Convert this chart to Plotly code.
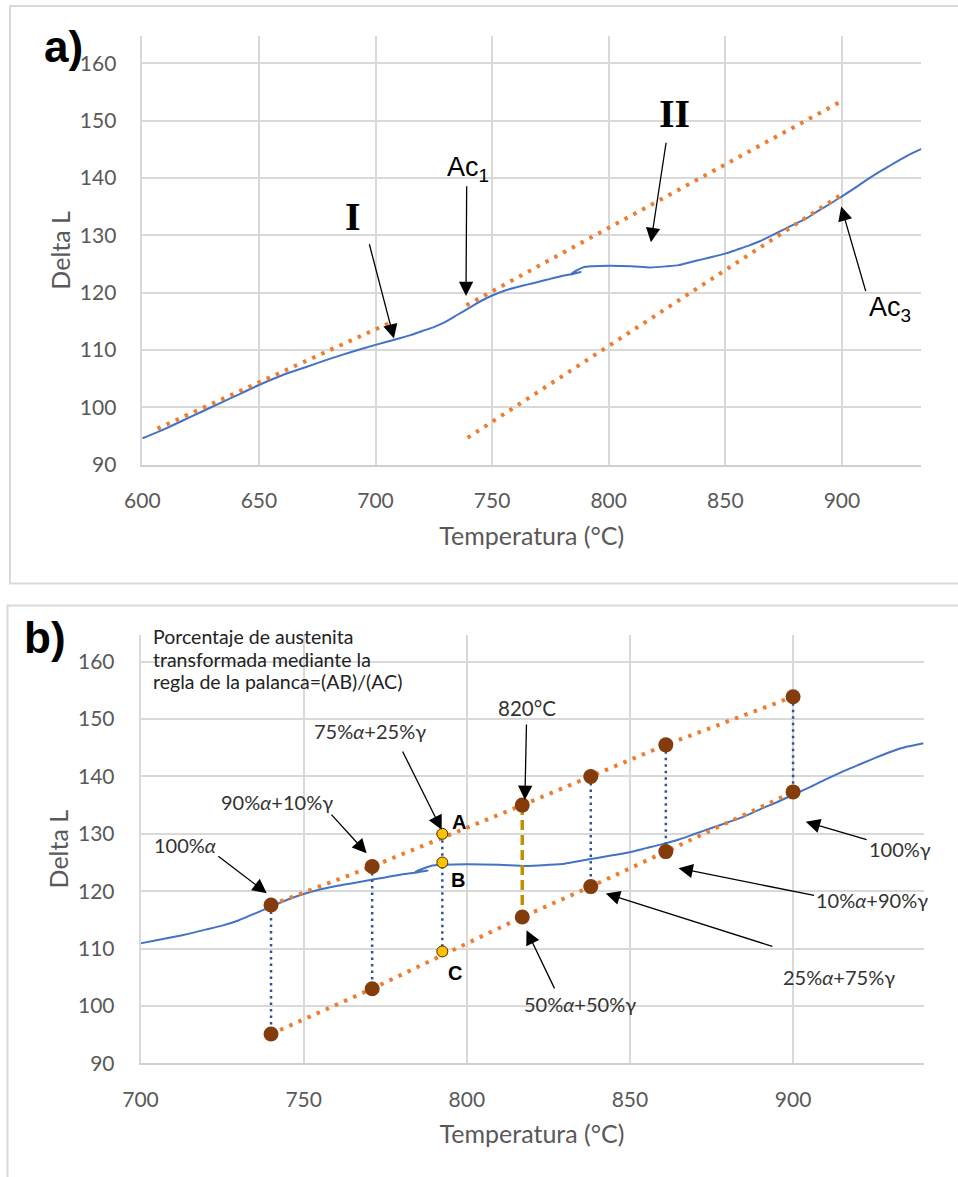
import plotly.graph_objects as go

# ---------------- data ----------------
# dilatometric curve (Temperature °C, Delta L)
temp = [600, 610, 620, 630, 640, 650, 660, 670, 680, 690, 700, 710, 715, 720, 725, 730,
        735, 740, 745, 750, 755, 760, 765, 770, 775, 780, 785, 788, 784, 789, 793,
        800, 810, 818, 825, 830, 835, 840, 845, 850, 855, 860, 865, 870, 875, 880,
        885, 890, 895, 900, 905, 910, 915, 920, 925, 930, 935, 940]
delta_l = [94.6, 96.3, 98.2, 100.1, 102.0, 103.9, 105.6, 107.0, 108.4, 109.7, 110.9, 112.0, 112.6, 113.3, 114.0, 114.9,
           116.1, 117.3, 118.5, 119.5, 120.3, 120.9, 121.4, 121.9, 122.4, 122.9, 123.3, 123.6, 123.3, 124.4, 124.6,
           124.7, 124.6, 124.4, 124.6, 124.8, 125.3, 125.8, 126.3, 126.8, 127.5, 128.2, 129.0, 130.0, 131.0, 132.0,
           133.0, 134.3, 135.5, 136.8, 138.1, 139.5, 140.8, 142.0, 143.2, 144.3, 145.2, 145.8]

# panel a tangent lines
line_I_T = [606.5, 707]
line_I_dL = [96.3, 114.9]
upper_a_T = [739, 899]
upper_a_dL = [117.8, 153.2]
lower_a_T = [739.5, 899]
lower_a_dL = [94.7, 136.9]

# panel b lever-rule points
pt_T = [740, 771, 817, 838, 861, 900]
pt_upper = [117.6, 124.3, 135.0, 140.0, 145.5, 153.9]
pt_lower = [95.1, 103.0, 115.5, 120.8, 126.9, 137.3]
abc_T = 792.5
abc_vals = [130.0, 125.0, 109.5]
abc_labels = ["A", "B", "C"]

x_ticks_a = [600, 650, 700, 750, 800, 850, 900]
x_ticks_b = [700, 750, 800, 850, 900]
y_ticks = [90, 100, 110, 120, 130, 140, 150, 160]

note_lines = ["Porcentaje de austenita", "transformada mediante la", "regla de la palanca=(AB)/(AC)"]

# ---------------- styles ----------------
BLUE = "#4472C4"
ORANGE = "#ED7D31"
BROWN = "#843C0C"
DBLUE = "#2F5597"
GOLD = "#BF9000"
YELLOW = "#FFC000"
GRID = "#D9D9D9"
TXT = "#595959"
FONT = "Lato"

W, H = 958, 1177

fig = go.Figure()

# ---- panel a ----
fig.add_trace(go.Scatter(x=temp, y=delta_l, mode="lines", line=dict(color=BLUE, width=2, shape="spline", smoothing=0.6),
                         xaxis="x", yaxis="y", showlegend=False))
for xs, ys in [(line_I_T, line_I_dL), (upper_a_T, upper_a_dL), (lower_a_T, lower_a_dL)]:
    fig.add_trace(go.Scatter(x=xs, y=ys, mode="lines",
                             line=dict(color=ORANGE, width=4, dash="3.5px,6.5px"),
                             xaxis="x", yaxis="y", showlegend=False))

# ---- panel b ----
fig.add_trace(go.Scatter(x=temp, y=delta_l, mode="lines", line=dict(color=BLUE, width=2, shape="spline", smoothing=0.6),
                         xaxis="x2", yaxis="y2", showlegend=False))
for ys in [pt_upper, pt_lower]:
    fig.add_trace(go.Scatter(x=pt_T, y=ys, mode="lines",
                             line=dict(color=ORANGE, width=4, dash="3.5px,6.5px"),
                             xaxis="x2", yaxis="y2", showlegend=False))
# vertical connectors
for t, u, l in zip(pt_T, pt_upper, pt_lower):
    if t == 817:
        ln = dict(color=GOLD, width=3.5, dash="10px,5px")
    else:
        ln = dict(color=DBLUE, width=2.5, dash="2.5px,4px")
    fig.add_trace(go.Scatter(x=[t, t], y=[u, l], mode="lines", line=ln,
                             xaxis="x2", yaxis="y2", showlegend=False))
fig.add_trace(go.Scatter(x=[abc_T, abc_T], y=[abc_vals[0], abc_vals[2]], mode="lines",
                         line=dict(color=DBLUE, width=2.5, dash="2.5px,4px"),
                         xaxis="x2", yaxis="y2", showlegend=False))
# markers
fig.add_trace(go.Scatter(x=pt_T + pt_T, y=pt_upper + pt_lower, mode="markers",
                         marker=dict(color=BROWN, size=15, line=dict(width=0)),
                         xaxis="x2", yaxis="y2", showlegend=False))
fig.add_trace(go.Scatter(x=[abc_T] * 3, y=abc_vals, mode="markers",
                         marker=dict(color=YELLOW, size=11, line=dict(color="#3A2A00", width=1)),
                         xaxis="x2", yaxis="y2", showlegend=False))

# ---------------- axes ----------------
def xax(domain, rng, ticks, anchor, standoff):
    return dict(domain=domain, range=rng, tickvals=ticks, ticktext=[str(t) for t in ticks],
                showgrid=True, gridcolor=GRID, gridwidth=1.5, zeroline=False,
                showline=True, linecolor="#CFCFCF", linewidth=2, ticks="",
                tickfont=dict(family=FONT, size=21, color=TXT), ticklabelstandoff=16,
                title=dict(text="Temperatura (°C)", font=dict(family=FONT, size=25, color=TXT), standoff=standoff),
                anchor=anchor, automargin=False, fixedrange=True)

def yax(domain, rng, anchor):
    return dict(domain=domain, range=rng, tickvals=y_ticks, ticktext=[str(t) for t in y_ticks],
                showgrid=True, gridcolor=GRID, gridwidth=1.5, zeroline=False,
                showline=True, linecolor=GRID, linewidth=1.5, ticks="",
                tickfont=dict(family=FONT, size=21, color=TXT), ticklabelstandoff=20,
                title=dict(text="Delta L", font=dict(family=FONT, size=25, color=TXT), standoff=2),
                anchor=anchor, automargin=False, fixedrange=True)

xa_dom = [142.3 / W, 921.2 / W]
xb_dom = [140.5 / W, 923.6 / W]
ya_dom = [1 - 464.7 / H, 1 - 36 / H]
yb_dom = [1 - 1063.3 / H, 1 - 635 / H]

fig.update_layout(
    width=W, height=H, autosize=False,
    margin=dict(l=0, r=0, t=0, b=0),
    paper_bgcolor="white", plot_bgcolor="white",
    xaxis=xax(xa_dom, [600, 934], x_ticks_a, "y", 17),
    yaxis=yax(ya_dom, [90, 164.75], "x"),
    xaxis2=xax(xb_dom, [700, 940], x_ticks_b, "y2", 16),
    yaxis2=yax(yb_dom, [90, 164.65], "x2"),
)

# ---------------- border boxes ----------------
fig.add_shape(type="rect", xref="paper", yref="paper",
              x0=10 / W, x1=1.02, y0=1 - 583.5 / H, y1=1 - 6 / H,
              line=dict(color=GRID, width=2), fillcolor="rgba(0,0,0,0)", layer="below")
fig.add_shape(type="rect", xref="paper", yref="paper",
              x0=7.5 / W, x1=1.02, y0=-0.02, y1=1 - 605.5 / H,
              line=dict(color=GRID, width=2), fillcolor="rgba(0,0,0,0)", layer="below")

# ---------------- annotations ----------------
ann = []

def text(x, y, s, xr, yr, size=20, family=FONT, color="black", xanchor="center", yanchor="middle"):
    ann.append(dict(x=x, y=y, xref=xr, yref=yr, text=s, showarrow=False,
                    xanchor=xanchor, yanchor=yanchor,
                    font=dict(family=family, size=size, color=color)))

def arrow(x0, y0, x1, y1, xr, yr):
    ann.append(dict(x=x1, y=y1, ax=x0, ay=y0, xref=xr, yref=yr, axref=xr, ayref=yr,
                    text="", showarrow=True, arrowhead=2, arrowsize=2.2, arrowwidth=1.3,
                    arrowcolor="black", standoff=0, startstandoff=0))

# panel labels
text(64 / W, 1 - 47 / H, "<b>a)</b>", "paper", "paper", size=44, family="Liberation Sans")
text(45 / W, 1 - 637 / H, "<b>b)</b>", "paper", "paper", size=44, family="Liberation Sans")

# panel a
text(690.2, 133.3, "<b>I</b>", "x", "y", size=40, family="Liberation Serif")
arrow(697.2, 128.7, 707.9, 112.0, "x", "y")
text(739.5, 141.5, "Ac<sub>1</sub>", "x", "y", size=27, family="Liberation Sans")
arrow(739.1, 138.8, 738.8, 119.4, "x", "y")
text(828, 151.3, "<b>II</b>", "x", "y", size=40, family="Liberation Serif")
arrow(824.7, 146.4, 818.1, 128.8, "x", "y")
text(920.5, 117.2, "Ac<sub>3</sub>", "x", "y", size=27, family="Liberation Sans")
arrow(910.4, 120.0, 899.7, 135.0, "x", "y")

# panel b note
for line, yc in zip(note_lines, [636.7, 659.3, 681.7]):
    text(150.7 / W, 1 - yc / H, line, "paper", "paper", size=19.5, color="#222222",
         xanchor="left", yanchor="middle")

text(770.3, 148.0, "75%<i>α</i>+25%γ", "x2", "y2", color="#333333")
arrow(780.1, 144.6, 792.3, 130.7, "x2", "y2")
text(741.8, 135.5, "90%<i>α</i>+10%γ", "x2", "y2", color="#333333")
arrow(758.1, 133.6, 769.3, 126.6, "x2", "y2")
text(713.6, 128.1, "100%<i>α</i>", "x2", "y2", color="#333333")
arrow(723.4, 126.3, 738.7, 119.65, "x2", "y2")
text(818.3, 151.9, "820°C", "x2", "y2", size=20.5, color="#333333")
arrow(818.3, 149.3, 817.8, 135.9, "x2", "y2")
text(932.8, 127.3, "100%γ", "x2", "y2", color="#333333")
arrow(923.0, 128.9, 903.9, 132.1, "x2", "y2")
text(924.2, 118.5, "10%<i>α</i>+90%γ", "x2", "y2", color="#333333")
arrow(906.9, 119.2, 864.9, 124.0, "x2", "y2")
text(914.0, 105.1, "25%<i>α</i>+75%γ", "x2", "y2", color="#333333")
arrow(894.1, 110.3, 842.6, 119.6, "x2", "y2")
text(834.7, 100.4, "50%<i>α</i>+50%γ", "x2", "y2", color="#333333")
arrow(827.1, 102.8, 818.3, 113.2, "x2", "y2")
for lab, yy, dx, dy in zip(abc_labels, abc_vals, [5.2, 4.9, 3.9], [2.1, -3.0, -3.7]):
    text(abc_T + dx, yy + dy, "<b>%s</b>" % lab, "x2", "y2", size=20, family="Liberation Sans")

fig.update_layout(annotations=ann)

fig.write_html("out.html", config={"displayModeBar": False},
               post_script="document.body.style.margin='0';document.body.style.padding='0';")
